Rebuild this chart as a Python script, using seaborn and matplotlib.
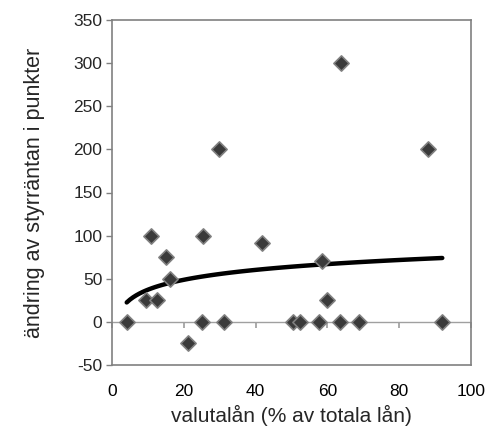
import matplotlib
matplotlib.use("Agg")
import matplotlib.pyplot as plt
import seaborn as sns
import numpy as np
import pandas as pd

valutalan = [4.1, 9.5, 10.8, 12.6, 15.0, 16.2, 21.3, 25.1, 25.4, 29.9, 31.2, 41.7,
             50.5, 52.5, 57.7, 58.4, 60.0, 63.8, 63.5, 68.8, 88.0, 92.0]
styrranta = [0, 25, 100, 25, 75, 50, -25, 0, 100, 200, 0, 91,
             0, 0, 0, 71, 25, 300, 0, 0, 200, 0]
x_ticks = [0, 20, 40, 60, 80, 100]
y_ticks = [-50, 0, 50, 100, 150, 200, 250, 300, 350]

df = pd.DataFrame({"x": valutalan, "y": styrranta})

sns.set_theme(style="white")
plt.rcParams["font.family"] = ["Liberation Sans", "DejaVu Sans"]
plt.rcParams["axes.unicode_minus"] = False

fig = plt.figure(figsize=(4.86, 4.28), dpi=100)
ax = fig.add_axes([112/486, 1-365/428, (471-112)/486, (365-20)/428])

ax.axhline(0, color="#a0a0a0", lw=1, zorder=1)
sns.regplot(data=df, x="x", y="y", logx=True, ci=None, scatter=False,
            line_kws=dict(color="black", lw=3.2), truncate=True, ax=ax)
sns.scatterplot(data=df, x="x", y="y", marker="D", s=60, color="#3a3a3a",
                edgecolor="#808080", linewidth=1.2, zorder=3, ax=ax)

ax.set_xlim(0, 100)
ax.set_ylim(-50, 350)
ax.set_xticks(x_ticks)
ax.set_yticks(y_ticks)
ax.tick_params(axis="x", length=0, labelsize=12.5, pad=14, colors="black")
ax.tick_params(axis="y", length=4, width=1, color="#808080", labelsize=12.5,
               pad=3, left=True, direction="out")
for s in ax.spines.values():
    s.set_color("#808080")
    s.set_linewidth(1.2)

sec = ax.secondary_xaxis(50/400)
sec.set_xticks(x_ticks)
sec.tick_params(axis="x", length=4, color="#a0a0a0", labelbottom=False, direction="out")
sec.spines["bottom"].set_visible(False)

ax.set_xlabel("valutalån (% av totala lån)", fontsize=15, labelpad=4)
ax.set_ylabel("ändring av styrräntan i punkter", fontsize=15.5, labelpad=20)

fig.savefig("out.png", dpi=100)
